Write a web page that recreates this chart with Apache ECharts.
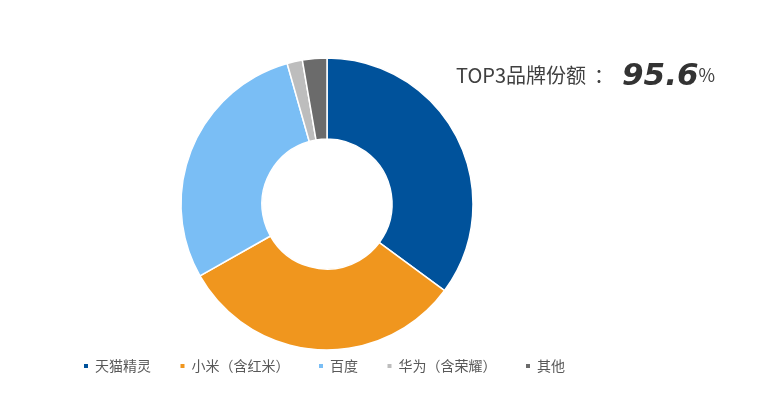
<!DOCTYPE html>
<html><head><meta charset="utf-8">
<script src="https://cdn.jsdelivr.net/npm/echarts@6/dist/echarts.min.js"></script>
<style>html,body{margin:0;padding:0;background:#fff}#c{width:762px;height:414px}</style>
</head><body><div id="c"></div>
<script>
const categories = ['天猫精灵', '小米（含红米）', '百度', '华为（含荣耀）', '其他'];
const shares = [35.1, 31.7, 28.8, 1.7, 2.7];
const colors = ['#00529B', '#F0961E', '#7ABEF5', '#BDBDBD', '#6B6B6B'];
const top3Label = 'TOP3品牌份额';
const top3Value = '95.6';

const chart = echarts.init(document.getElementById('c'), null, {renderer: 'canvas'});
chart.setOption({
  animation: false,
  color: colors,
  title: {
    left: 451, top: 56,
    text: '{a|' + top3Label + '}{s|：}{b|' + top3Value + '}{c|%}',
    textStyle: {
      fontWeight: 'normal',
      rich: {
        a: {fontSize: 20, color: '#404040', fontWeight: 'normal', fontFamily: 'Noto Sans CJK SC', padding: [0, 0, 2, 0]},
        s: {fontSize: 20, color: '#404040', fontWeight: 'normal', fontFamily: 'Noto Sans CJK SC', width: 36, align: 'center', padding: [0, 0, 2, 0]},
        b: {fontSize: 31, color: '#333333', fontWeight: 'bold', fontStyle: 'italic', fontFamily: 'DejaVu Sans'},
        c: {fontSize: 18, color: '#404040', fontWeight: 'normal', fontFamily: 'Noto Sans CJK SC', padding: [0, 0, 2, 0]}
      }
    }
  },
  legend: {
    left: 77, top: 354,
    itemWidth: 6, itemHeight: 6, itemGap: 27.5,
    icon: 'rect',
    textStyle: {fontSize: 14, color: '#595959', fontFamily: 'Noto Sans CJK SC', padding: [0, 0, 0, 1]},
    data: categories
  },
  series: [{
    type: 'pie',
    center: [327, 204],
    radius: [65, 146],
    startAngle: 90,
    clockwise: true,
    label: {show: false},
    labelLine: {show: false},
    itemStyle: {borderColor: '#ffffff', borderWidth: 1.5},
    data: categories.map((n, i) => ({name: n, value: shares[i]}))
  }]
});
</script></body></html>
